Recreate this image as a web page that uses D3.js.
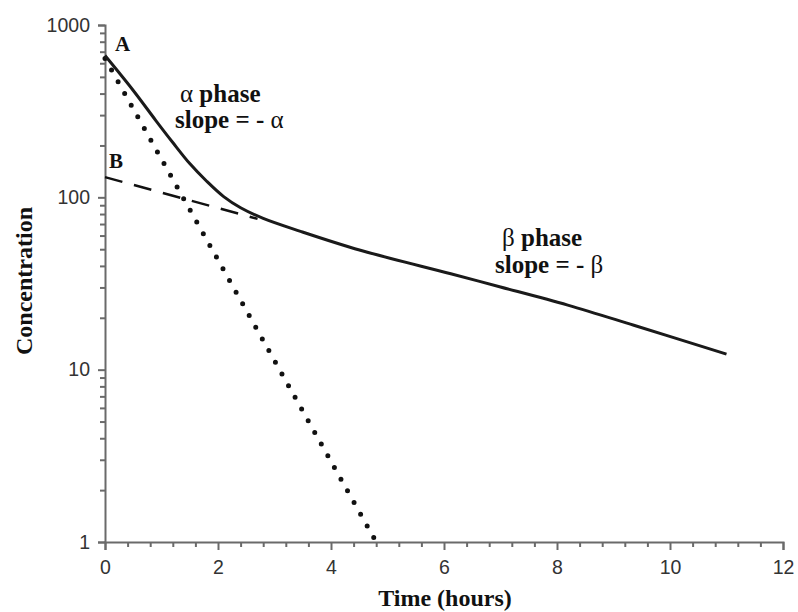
<!DOCTYPE html>
<html>
<head>
<meta charset="utf-8">
<script src="https://cdn.jsdelivr.net/npm/d3@7"></script>
<style>
  html, body { margin: 0; padding: 0; background: #fff; }
  svg { display: block; }
</style>
</head>
<body>
<svg id="chart" width="798" height="612"></svg>
<script>
// ---- data ----
const solidTime = [0, 0.5, 0.9, 1.2, 1.5, 1.8, 2.1, 2.4, 2.8, 3.46, 4.52, 6.12, 7.0, 8.19, 9.36, 11.0];
const solidConc = [665, 417, 279, 208, 157, 124, 101, 87, 75.5, 63.5, 49.3, 36.0, 30.2, 23.7, 18.1, 12.3];
const alphaTime = [0, 4.8];
const alphaConc = [640, 1];
const betaTime = [0, 2.7];
const betaConc = [131, 75];
const xTickValues = [0, 2, 4, 6, 8, 10, 12];
const yTickValues = [1, 10, 100, 1000];
const xLabel = "Time (hours)";
const yLabel = "Concentration";

const svg = d3.select("#chart");
const x = d3.scaleLinear().domain([0, 12]).range([105, 783]);
const y = d3.scaleLog().domain([1, 1000]).range([542, 25]);

const axisColor = "#6a6a6a";
const labelColor = "#333";

// minor ticks
const yMinor = y.ticks().filter(v => !yTickValues.includes(v));
const xMinor = d3.range(0, 12.001, 0.4).filter(v => Math.abs(v / 2 - Math.round(v / 2)) > 1e-6);

const gyMinor = svg.append("g").attr("transform", `translate(${x(0)},0)`)
  .call(d3.axisLeft(y).tickValues(yMinor).tickSize(5).tickFormat(""));
const gxMinor = svg.append("g").attr("transform", `translate(0,${y(1)})`)
  .call(d3.axisBottom(x).tickValues(xMinor).tickSize(5).tickFormat(""));
[gyMinor, gxMinor].forEach(g => {
  g.select(".domain").remove();
  g.selectAll(".tick line").attr("stroke", axisColor).attr("stroke-width", 2);
});

const gy = svg.append("g").attr("transform", `translate(${x(0)},0)`)
  .call(d3.axisLeft(y).tickValues(yTickValues).tickSize(7).tickPadding(8).tickFormat(d3.format("d")));
const gx = svg.append("g").attr("transform", `translate(0,${y(1)})`)
  .call(d3.axisBottom(x).tickValues(xTickValues).tickSize(8).tickPadding(10).tickFormat(d3.format("d")));
[gy, gx].forEach(g => {
  g.select(".domain").attr("stroke", axisColor).attr("stroke-width", 2);
  g.selectAll(".tick line").attr("stroke", axisColor).attr("stroke-width", 2);
  g.selectAll(".tick text")
    .attr("fill", labelColor)
    .style("font-family", "'Liberation Sans', Arial, sans-serif")
    .style("font-size", "19.5px");
});

// lines
const line = d3.line().x(d => x(d[0])).y(d => y(d[1]));

svg.append("path")
  .datum(alphaTime.map((t, i) => [t, alphaConc[i]]))
  .attr("d", line)
  .attr("fill", "none")
  .attr("stroke", "#111")
  .attr("stroke-width", 5)
  .attr("stroke-linecap", "round")
  .attr("stroke-dasharray", "0 13.4");

svg.append("path")
  .datum(betaTime.map((t, i) => [t, betaConc[i]]))
  .attr("d", line)
  .attr("fill", "none")
  .attr("stroke", "#111")
  .attr("stroke-width", 2.5)
  .attr("stroke-dasharray", "18 12");

svg.append("path")
  .datum(solidTime.map((t, i) => [t, solidConc[i]]))
  .attr("d", d3.line().x(d => x(d[0])).y(d => y(d[1])).curve(d3.curveCatmullRom.alpha(0.5)))
  .attr("fill", "none")
  .attr("stroke", "#1a1a1a")
  .attr("stroke-width", 3)
  .attr("stroke-linejoin", "round");

// text
const serif = "'Liberation Serif', 'Times New Roman', serif";

svg.append("text")
  .attr("x", 445).attr("y", 606)
  .attr("text-anchor", "middle")
  .style("font-family", serif).style("font-weight", "bold").style("font-size", "24px")
  .attr("fill", "#111")
  .text(xLabel);

svg.append("text")
  .attr("transform", "translate(32,281) rotate(-90)")
  .attr("text-anchor", "middle")
  .style("font-family", serif).style("font-weight", "bold").style("font-size", "24px")
  .attr("fill", "#111")
  .text(yLabel);

function annot(xp, yp, parts, size) {
  const t = svg.append("text")
    .attr("x", xp).attr("y", yp)
    .style("font-family", serif).style("font-size", size + "px")
    .attr("fill", "#111");
  parts.forEach(p => {
    t.append("tspan").style("font-weight", p[1] ? "bold" : "normal").text(p[0]);
  });
}
annot(115, 51, [["A", true]], 21);
annot(109, 168, [["B", true]], 21);
annot(180, 102, [["α", false], [" phase", true]], 25);
annot(175, 128, [["slope = - ", true], ["α", false]], 25);
annot(502, 246, [["β", false], [" phase", true]], 25);
annot(495, 273, [["slope = - ", true], ["β", false]], 25);
</script>
</body>
</html>
